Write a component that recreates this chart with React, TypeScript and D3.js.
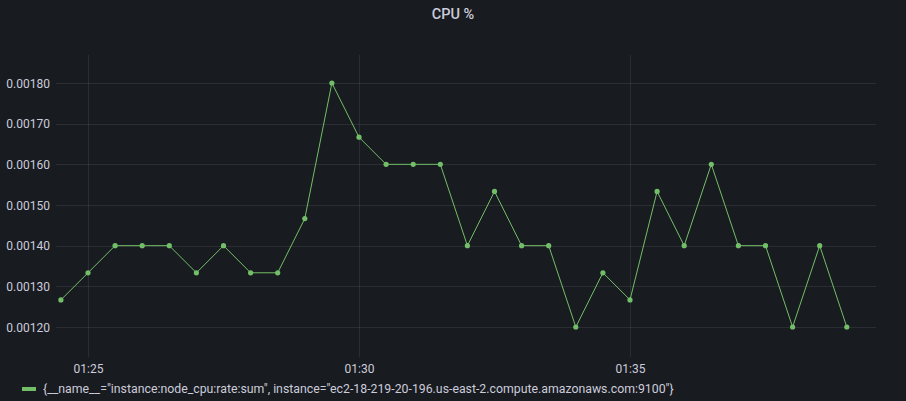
import React from "react";
import * as d3 from "d3";

const times: string[] = [
  "01:24:30","01:25:00","01:25:30","01:26:00","01:26:30","01:27:00","01:27:30","01:28:00","01:28:30","01:29:00",
  "01:29:30","01:30:00","01:30:30","01:31:00","01:31:30","01:32:00","01:32:30","01:33:00","01:33:30","01:34:00",
  "01:34:30","01:35:00","01:35:30","01:36:00","01:36:30","01:37:00","01:37:30","01:38:00","01:38:30","01:39:00",
];
const cpuValues: number[] = [
  0.0012667, 0.0013333, 0.0014, 0.0014, 0.0014, 0.0013333, 0.0014, 0.0013333, 0.0013333, 0.0014667,
  0.0018, 0.0016667, 0.0016, 0.0016, 0.0016, 0.0014, 0.0015333, 0.0014, 0.0014, 0.0012,
  0.0013333, 0.0012667, 0.0015333, 0.0014, 0.0016, 0.0014, 0.0014, 0.0012, 0.0014, 0.0012,
];
const yTicks: number[] = [0.0012, 0.0013, 0.0014, 0.0015, 0.0016, 0.0017, 0.0018];
const xTickLabels: string[] = ["01:25", "01:30", "01:35"];
const title = "CPU %";
const legendLabel = '{__name__="instance:node_cpu:rate:sum", instance="ec2-18-219-20-196.us-east-2.compute.amazonaws.com:9100"}';

const W = 906, H = 401;
const plotLeft = 56, plotRight = 876, plotTop = 55, plotBottom = 357;
const parse = (s: string) => {
  const [h, m, sec] = s.split(":").map(Number);
  return new Date(2024, 0, 1, h, m, sec);
};

export default function App() {
  const dates = times.map(parse);
  const x = d3
    .scaleTime()
    .domain([parse("01:25:00"), parse("01:30:00")])
    .range([88, 359]);
  const y = d3.scaleLinear().domain([0.0012, 0.0018]).range([327, 83]);
  const line = d3
    .line<number>()
    .x((_, i) => x(dates[i]))
    .y((d) => y(d));
  const fmt = d3.format(".5f");
  const font = "Roboto, Inter, 'Noto Sans', sans-serif";
  const textColor = "#ccccdc";
  const grid = "rgba(204,204,220,0.1)";
  const green = "#73bf69";

  return (
    <svg
      width={W}
      height={H}
      style={{ position: "absolute", left: 0, top: 0, display: "block", background: "#181b1f" }}
    >
      <rect x={0} y={0} width={W} height={H} fill="#181b1f" />
      <text x={453} y={19} textAnchor="middle" fill={textColor} fontFamily={font} fontSize={14.5} fontWeight={500}>
        {title}
      </text>
      {yTicks.map((t) => (
        <g key={t}>
          <line x1={plotLeft} x2={plotRight} y1={Math.round(y(t)) + 0.5} y2={Math.round(y(t)) + 0.5} stroke={grid} strokeWidth={1} />
          <text x={50} y={y(t) + 4.5} textAnchor="end" fill={textColor} fontFamily={font} fontSize={12}>
            {fmt(t)}
          </text>
        </g>
      ))}
      {xTickLabels.map((l) => {
        const xp = Math.round(x(parse(l + ":00"))) + 0.5;
        return (
          <g key={l}>
            <line x1={xp} x2={xp} y1={plotTop} y2={plotBottom} stroke={grid} strokeWidth={1} />
            <text x={xp} y={373} textAnchor="middle" fill={textColor} fontFamily={font} fontSize={12}>
              {l}
            </text>
          </g>
        );
      })}
      <path d={line(cpuValues) || ""} fill="none" stroke={green} strokeWidth={1} />
      {cpuValues.map((v, i) => (
        <circle key={i} cx={x(dates[i])} cy={y(v)} r={2.6} fill={green} />
      ))}
      <rect x={22} y={387} width={14} height={4} fill={green} />
      <text x={43} y={393} fill={textColor} fontFamily={font} fontSize={12.3}>
        {legendLabel}
      </text>
    </svg>
  );
}
